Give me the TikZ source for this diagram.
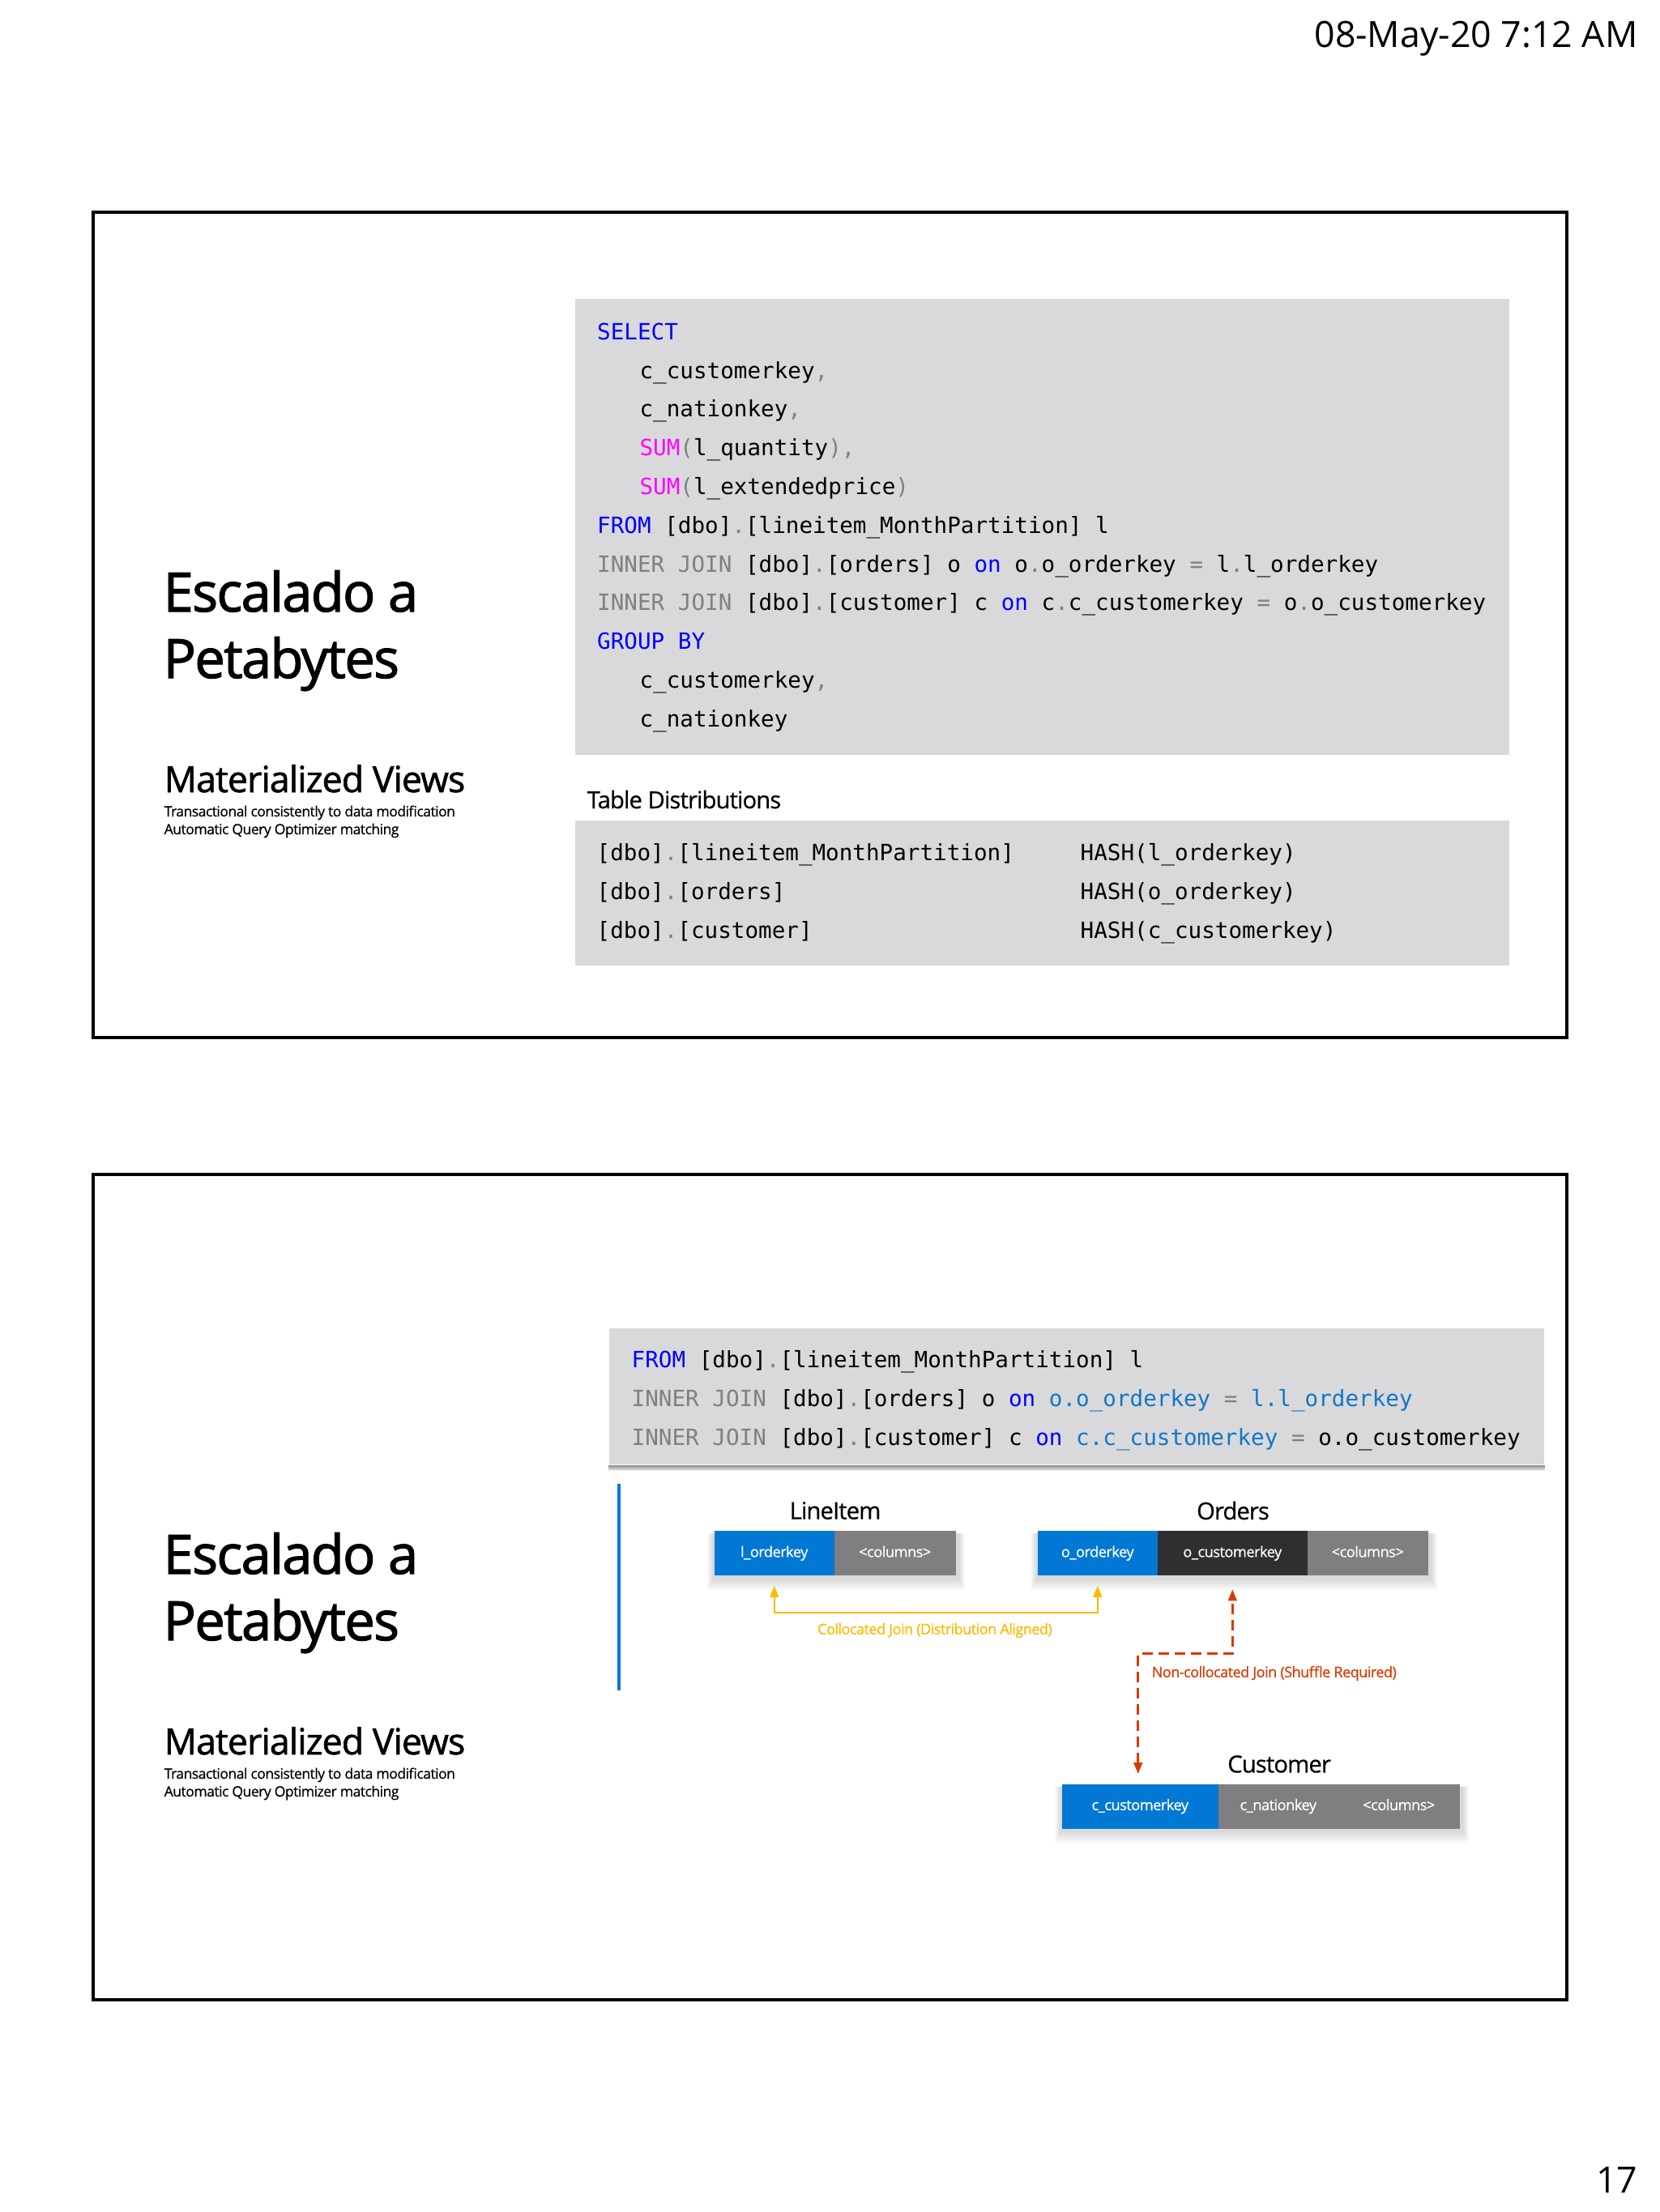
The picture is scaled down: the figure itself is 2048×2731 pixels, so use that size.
\documentclass[tikz,border=0pt]{standalone}
\usepackage{fontspec}
\setmainfont{Open Sans}
\setmonofont{DejaVu Sans Mono}
\newfontfamily\headfont[RawFeature={embolden=1.8},LetterSpace=-2.5]{Open Sans}
\newfontfamily\viewfont[RawFeature={embolden=1.4},LetterSpace=-2]{Open Sans}
\newfontfamily\tightfont[RawFeature={embolden=0.6},LetterSpace=-3]{Open Sans}
\usetikzlibrary{arrows.meta,backgrounds}

\definecolor{panelgray}{HTML}{D9D9DC}
\definecolor{msblue}{HTML}{0078D4}
\definecolor{cellgray}{HTML}{7F7E80}
\definecolor{celldark}{HTML}{2F2F32}
\definecolor{joinyellow}{HTML}{FFB900}
\definecolor{joinred}{HTML}{D83B01}
\definecolor{hlblue}{HTML}{1277C4}
\definecolor{sqlblue}{HTML}{0000FF}
\definecolor{sqlgray}{HTML}{808080}
\definecolor{sqlpink}{HTML}{FF00FF}

\newcommand{\kw}[1]{\textcolor{sqlblue}{#1}}
\newcommand{\gy}[1]{\textcolor{sqlgray}{#1}}
\newcommand{\fn}[1]{\textcolor{sqlpink}{#1}}
\newcommand{\hl}[1]{\textcolor{hlblue}{#1}}
\newcommand{\tab}{\hspace*{14.9pt}}

\tikzset{
    panel/.style={anchor=north west, fill=panelgray, inner sep=0pt},
    code/.style={anchor=north west, inner sep=0pt, align=left,
        font=\fontsize{7.85}{13.6}\selectfont\ttfamily},
    cell/.style={anchor=west, inner sep=0pt, minimum height=0.55cm, text=white,
        text height=4pt, text depth=1.2pt,
        font=\fontsize{5.2}{6}\selectfont\tightfont},
    tablename/.style={inner sep=0pt, font=\fontsize{8.3}{10}\selectfont\tightfont},
    joinlabel/.style={inner sep=0pt, font=\fontsize{5.15}{7}\selectfont\tightfont},
    stamp/.style={inner sep=0pt, font=\fontsize{12.7}{16}\selectfont},
}

\begin{document}
\begin{tikzpicture}[x=0.01cm, y=-0.01cm]
    \useasboundingbox (0, 0) rectangle (2048, 2731);

    % page stamps
    \node[stamp, anchor=base east] (date) at (2022, 59) {08-May-20 7:12 AM};
    \node[stamp, anchor=base east] (page) at (2022, 2707) {17};

    % both slides share frame and left column
    \foreach \off/\nm in {0/one, 1188/two} {
        \draw[line width=1.1pt] (115, 262+\off) rectangle (1934, 1281+\off);
        \node[inner sep=0pt, anchor=base west, font=\fontsize{19}{23}\selectfont\headfont] (title\nm) at (201, 755+\off) {Escalado a};
        \node[inner sep=0pt, anchor=base west, font=\fontsize{19}{23}\selectfont\headfont] (subtitle\nm) at (201, 837+\off) {Petabytes};
        \node[inner sep=0pt, anchor=base west, font=\fontsize{12.7}{15}\selectfont\viewfont] (views\nm) at (202, 978+\off) {Materialized Views};
        \node[inner sep=0pt, anchor=base west, font=\fontsize{5}{6}\selectfont\tightfont] (transact\nm) at (202, 1008+\off) {Transactional consistently to data modification};
        \node[inner sep=0pt, anchor=base west, font=\fontsize{5}{6}\selectfont\tightfont] (automatic\nm) at (202, 1030+\off) {Automatic Query Optimizer matching};
    }

    % first slide
    \node[panel, minimum width=11.52cm, minimum height=5.63cm] (querybox) at (709.5, 368) {};
    \node[code] (query) at (736.5, 398) {\kw{SELECT}\\
        \tab c\_customerkey\gy{,}\\
        \tab c\_nationkey\gy{,}\\
        \tab \fn{SUM}\gy{(}l\_quantity\gy{),}\\
        \tab \fn{SUM}\gy{(}l\_extendedprice\gy{)}\\
        \kw{FROM} {[}dbo]\gy{.}{[}lineitem\_MonthPartition] l\\
        \gy{INNER JOIN} {[}dbo]\gy{.}{[}orders] o \kw{on} o\gy{.}o\_orderkey \gy{=} l\gy{.}l\_orderkey\\
        \gy{INNER JOIN} {[}dbo]\gy{.}{[}customer] c \kw{on} c\gy{.}c\_customerkey \gy{=} o\gy{.}o\_customerkey\\
        \kw{GROUP BY}\\
        \tab c\_customerkey\gy{,}\\
        \tab c\_nationkey};

    \node[tablename, anchor=base west] (distname) at (724, 998) {Table Distributions};
    \node[panel, minimum width=11.52cm, minimum height=1.79cm] (distbox) at (709.5, 1012) {};
    \node[code] (disttables) at (736, 1041) {{[}dbo]\gy{.}{[}lineitem\_MonthPartition]\\
        {[}dbo]\gy{.}{[}orders]\\
        {[}dbo]\gy{.}{[}customer]};
    \node[code] (disthash) at (1333, 1041) {HASH(l\_orderkey)\\
        HASH(o\_orderkey)\\
        HASH(c\_customerkey)};

    % second slide
    \node[panel, minimum width=11.54cm, minimum height=1.68cm] (joinbox) at (751, 1639) {};
    \node[code] (joins) at (779, 1667) {\kw{FROM} {[}dbo]\gy{.}{[}lineitem\_MonthPartition] l\\
        \gy{INNER JOIN} {[}dbo]\gy{.}{[}orders] o \kw{on} \hl{o.o\_orderkey} \gy{=} \hl{l.l\_orderkey}\\
        \gy{INNER JOIN} {[}dbo]\gy{.}{[}customer] c \kw{on} \hl{c.c\_customerkey} \gy{=} o.o\_customerkey};

    \draw[msblue, line width=1.1pt] (764, 1832) -- (764, 2087);

    \node[tablename] (lineitem) at (1031, 1865) {LineItem};
    \node[cell, fill=msblue, minimum width=1.48cm] (lkey) at (881, 1917.5) {l\_orderkey};
    \node[cell, fill=cellgray, minimum width=1.50cm] (lcols) at (1029, 1917.5) {<columns>};

    \node[tablename] (orders) at (1522, 1865) {Orders};
    \node[cell, fill=msblue, minimum width=1.48cm] (okey) at (1280, 1917.5) {o\_orderkey};
    \node[cell, fill=celldark, minimum width=1.85cm] (ocust) at (1428, 1917.5) {o\_customerkey};
    \node[cell, fill=cellgray, minimum width=1.49cm] (ocols) at (1613, 1917.5) {<columns>};

    \node[tablename] (customer) at (1579, 2178) {Customer};
    \node[cell, fill=msblue, minimum width=1.93cm] (ckey) at (1310, 2230) {c\_customerkey};
    \node[cell, fill=cellgray, minimum width=1.48cm] (cnation) at (1503, 2230) {c\_nationkey};
    \node[cell, fill=cellgray, minimum width=1.50cm] (ccols) at (1651, 2230) {<columns>};

    \begin{scope}[on background layer]
        \foreach \s in {2,4,...,16} {
            \fill[black, opacity=0.02] ([shift={(-\s/2,4)}]lkey.north west) rectangle ([shift={(\s/2+2,\s+2)}]lcols.south east);
            \fill[black, opacity=0.02] ([shift={(-\s/2,4)}]okey.north west) rectangle ([shift={(\s/2+2,\s+2)}]ocols.south east);
            \fill[black, opacity=0.02] ([shift={(-\s/2,4)}]ckey.north west) rectangle ([shift={(\s/2+2,\s+2)}]ccols.south east);
        }
        \foreach \s in {1,2,...,7} {
            \fill[black, opacity=0.08] (joinbox.south west) rectangle ([yshift=-\s*0.01cm]joinbox.south east);
        }
    \end{scope}

    \draw[joinyellow, line width=0.6pt, {Triangle[width=3pt,length=4pt]}-{Triangle[width=3pt,length=4pt]},
        shorten <=3.4pt, shorten >=3.4pt] (lkey.south) -- ++(0, 45) -| (okey.south);
    \node[joinlabel, text=joinyellow] (collocated) at (1154, 2013) {Collocated Join (Distribution Aligned)};

    \draw[joinred, line width=0.75pt, dash pattern=on 3.7pt off 2pt, {Triangle[width=3pt,length=4pt]}-{Triangle[width=3pt,length=4pt]},
        shorten <=3.3pt, shorten >=4.7pt] ([xshift=-0.025cm]ckey.north) -- ++(0, -160) -| (ocust.south);
    \node[joinlabel, text=joinred, anchor=west] (noncollocated) at (1421, 2066) {Non-collocated Join (Shuffle Required)};
\end{tikzpicture}
\end{document}
